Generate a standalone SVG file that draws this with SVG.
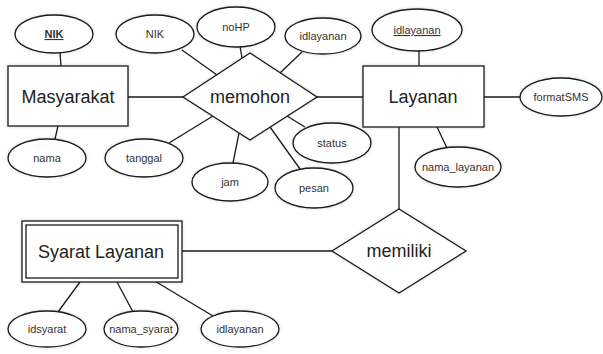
<svg xmlns="http://www.w3.org/2000/svg" width="603" height="354" viewBox="0 0 603 354">
<style>
.s{fill:#fff;stroke:#1a1a1a;stroke-width:1.3;filter:url(#sh)}
.c line{stroke:#1a1a1a;stroke-width:1.3}
.e{font-family:"Liberation Sans",Arial,sans-serif;font-size:18px;fill:#222;text-anchor:middle}
.a{font-family:"Liberation Sans",Arial,sans-serif;font-size:11px;fill:#333;text-anchor:middle}
.k{text-decoration:underline}
.b{font-weight:bold}
</style>
<defs>
<filter id="sh" x="-20%" y="-20%" width="140%" height="140%">
<feDropShadow dx="0" dy="0" stdDeviation="1.5" flood-color="#000" flood-opacity="0.18"/>
</filter>
</defs>
<rect width="603" height="354" fill="#fff"/>
<g class="c" id="connectors">
<line x1="60" y1="53" x2="61" y2="66"/>
<line x1="128" y1="97" x2="183" y2="97"/>
<line x1="317" y1="97" x2="363" y2="97"/>
<line x1="58" y1="126" x2="55" y2="139"/>
<line x1="182" y1="50" x2="217" y2="75"/>
<line x1="240" y1="46" x2="242" y2="58"/>
<line x1="302" y1="52" x2="280" y2="73"/>
<line x1="169" y1="143" x2="213" y2="116"/>
<line x1="233" y1="163" x2="239" y2="133"/>
<line x1="287" y1="116" x2="305" y2="127"/>
<line x1="270" y1="127" x2="300" y2="169"/>
<line x1="419" y1="51" x2="419" y2="66"/>
<line x1="484" y1="97" x2="520" y2="97"/>
<line x1="437" y1="127" x2="447" y2="148"/>
<line x1="399" y1="127" x2="399" y2="209"/>
<line x1="182" y1="251" x2="332" y2="251"/>
<line x1="80" y1="282" x2="58" y2="312"/>
<line x1="117" y1="282" x2="133" y2="312"/>
<line x1="153" y1="280" x2="213" y2="316"/>
</g>
<g id="masyarakat">
<rect class="s" x="8" y="66" width="120" height="60"/>
<text class="e" x="68" y="103">Masyarakat</text>
</g>
<g id="attr-nik-key">
<ellipse class="s" cx="54" cy="34" rx="39" ry="19"/>
<text class="a k b" x="54" y="38">NIK</text>
</g>
<g id="attr-nama">
<ellipse class="s" cx="47" cy="158" rx="39" ry="19"/>
<text class="a" x="47" y="162">nama</text>
</g>
<g id="memohon">
<polygon class="s" points="183,97 250,53 317,97 250,140"/>
<text class="e" x="250" y="103">memohon</text>
</g>
<g id="attr-nik">
<ellipse class="s" cx="155" cy="34" rx="39" ry="19"/>
<text class="a" x="155" y="38">NIK</text>
</g>
<g id="attr-nohp">
<ellipse class="s" cx="236" cy="27" rx="39" ry="20"/>
<text class="a" x="236" y="31">noHP</text>
</g>
<g id="attr-idlayanan-m">
<ellipse class="s" cx="323" cy="36" rx="38" ry="18"/>
<text class="a" x="323" y="40">idlayanan</text>
</g>
<g id="attr-tanggal">
<ellipse class="s" cx="144" cy="158" rx="39" ry="19"/>
<text class="a" x="144" y="162">tanggal</text>
</g>
<g id="attr-jam">
<ellipse class="s" cx="230" cy="182" rx="38" ry="19"/>
<text class="a" x="230" y="186">jam</text>
</g>
<g id="attr-status">
<ellipse class="s" cx="332" cy="143" rx="39" ry="20"/>
<text class="a" x="332" y="147">status</text>
</g>
<g id="attr-pesan">
<ellipse class="s" cx="314" cy="188" rx="39" ry="20"/>
<text class="a" x="314" y="192">pesan</text>
</g>
<g id="layanan">
<rect class="s" x="363" y="66" width="121" height="61"/>
<text class="e" x="423" y="103">Layanan</text>
</g>
<g id="attr-idlayanan-key">
<ellipse class="s" cx="417" cy="30" rx="45" ry="21"/>
<text class="a k" x="417" y="34">idlayanan</text>
</g>
<g id="attr-formatsms">
<ellipse class="s" cx="561" cy="97" rx="41" ry="19"/>
<text class="a" x="561" y="101">formatSMS</text>
</g>
<g id="attr-nama-layanan">
<ellipse class="s" cx="458" cy="167" rx="43" ry="20"/>
<text class="a" x="458" y="171">nama_layanan</text>
</g>
<g id="memiliki">
<polygon class="s" points="332,251 399,209 466,251 399,293"/>
<text class="e" x="399" y="257">memiliki</text>
</g>
<g id="syarat-layanan">
<rect class="s" x="22" y="221" width="160" height="61"/>
<rect x="26" y="225" width="152" height="53" fill="none" stroke="#1a1a1a" stroke-width="1.3"/>
<text class="e" x="101" y="258">Syarat Layanan</text>
</g>
<g id="attr-idsyarat">
<ellipse class="s" cx="47" cy="329" rx="39" ry="18"/>
<text class="a" x="47" y="333">idsyarat</text>
</g>
<g id="attr-nama-syarat">
<ellipse class="s" cx="141" cy="329" rx="37" ry="18"/>
<text class="a" x="141" y="333">nama_syarat</text>
</g>
<g id="attr-idlayanan-s">
<ellipse class="s" cx="240" cy="329" rx="39" ry="18"/>
<text class="a" x="240" y="333">idlayanan</text>
</g>
</svg>
